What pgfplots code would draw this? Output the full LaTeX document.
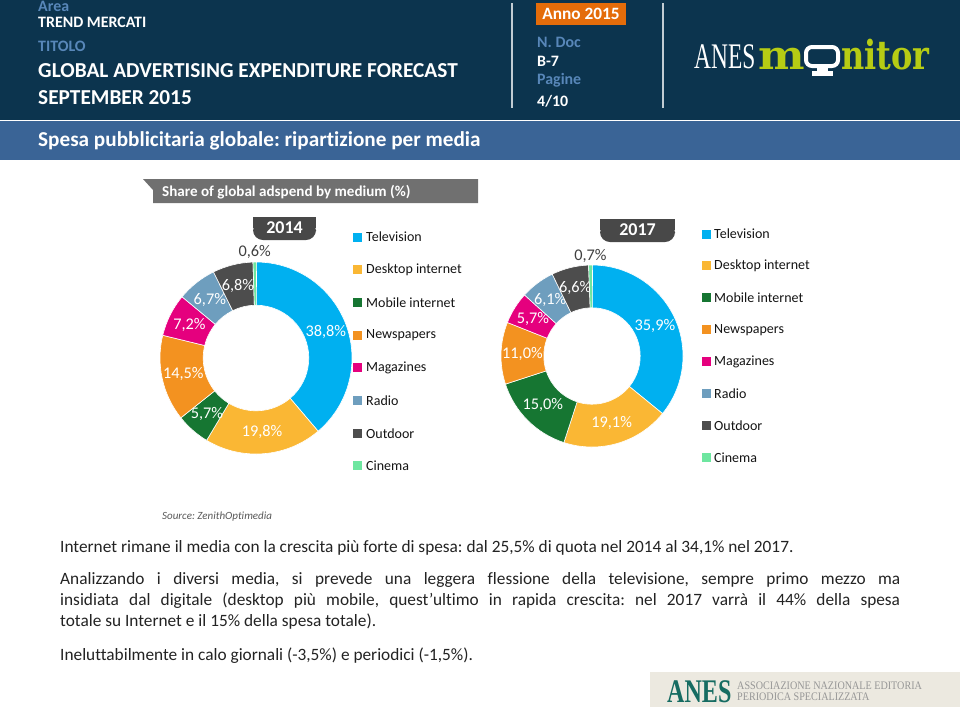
\documentclass[border=0pt]{standalone}
\usepackage{pgfplots}
\pgfplotsset{compat=1.18}
\usepackage{pgfplotstable}
\usepackage{fontspec}
\setmainfont{Carlito}[Ligatures=NoCommon]
\newfontfamily\serif{Liberation Serif}
\newfontfamily\dserif{DejaVu Serif}
\frenchspacing

\definecolor{navy}{RGB}{12,52,78}
\definecolor{band}{RGB}{58,100,150}
\definecolor{lblue}{RGB}{88,135,185}
\definecolor{anno}{RGB}{228,108,10}
\definecolor{lime}{RGB}{182,204,20}
\definecolor{titgray}{RGB}{112,112,112}
\definecolor{tabgray}{RGB}{72,72,72}
\definecolor{labdark}{RGB}{64,64,64}
\definecolor{bodytxt}{RGB}{35,35,35}
\definecolor{footbg}{RGB}{236,233,224}
\definecolor{teal}{RGB}{22,108,98}
\definecolor{footgray}{RGB}{150,150,150}
\definecolor{legtxt}{RGB}{20,20,20}

\definecolor{c0}{RGB}{0,176,240}
\definecolor{c1}{RGB}{250,183,52}
\definecolor{c2}{RGB}{22,118,50}
\definecolor{c3}{RGB}{243,146,32}
\definecolor{c4}{RGB}{229,0,126}
\definecolor{c5}{RGB}{110,158,190}
\definecolor{c6}{RGB}{77,77,77}
\definecolor{c7}{RGB}{110,230,160}

\pgfkeys{/pgf/number format/.cd,use comma,fixed,fixed zerofill,precision=1,assume math mode=true}

\pgfplotstableread{
medium v14 v17
Television 38.8 35.9
Desktop 19.8 19.1
Mobile 5.7 15.0
Newspapers 14.5 11.0
Magazines 7.2 5.7
Radio 6.7 6.1
Outdoor 6.8 6.6
Cinema 0.6 0.7
}\mediadata

\newcommand\lab{\fontsize{16.3}{16}\selectfont}

% #1 column, #2 outer radius (pt), #3 inner ratio
\newcommand\drawdonut[3]{%
  \def\cum{0}%
  \pgfplotsforeachungrouped \i in {0,...,7}{%
    \pgfplotstablegetelem{\i}{#1}\of\mediadata
    \let\val\pgfplotsretval
    \pgfmathsetmacro\a{90-3.6*\cum}%
    \pgfmathsetmacro\b{90-3.6*(\cum+\val)}%
    \pgfmathsetmacro\m{(\a+\b)/2}%
    \pgfmathsetmacro\ri{#2*#3}%
    \pgfmathsetmacro\rm{(1+#3)/2}%
    \edef\temp{\noexpand\fill[c\i,draw=white,line width=0.6pt] (axis cs:{cos(\a)},{sin(\a)}) arc[start angle=\a,end angle=\b,radius=#2pt] -- (axis cs:{#3*cos(\b)},{#3*sin(\b)}) arc[start angle=\b,end angle=\a,radius=\ri pt] -- cycle;}%
    \temp
    \ifnum\i=7
      \edef\temp{\noexpand\node[text=labdark,font=\noexpand\lab] at (axis cs:{1.1*cos(\m)},{1.1*sin(\m)}) {\noexpand\pgfmathprintnumber{\val}\noexpand\%};}%
    \else
      \edef\temp{\noexpand\node[text=white,font=\noexpand\lab] at (axis cs:{\rm*cos(\m)},{\rm*sin(\m)}) {\noexpand\pgfmathprintnumber{\val}\noexpand\%};}%
    \fi
    \temp
    \pgfmathsetmacro\cum{\cum+\val}%
  }%
}

\begin{document}
\begin{tikzpicture}[x=1pt,y=-1pt]
\useasboundingbox (0,0) rectangle (960,710);
\fill[white] (0,0) rectangle (960,710);
% header
\fill[navy] (0,0) rectangle (960,120);
\fill[band] (0,121) rectangle (960,160);
\node[anchor=west,inner sep=0,text=lblue,font=\fontsize{15.9}{16}\selectfont\bfseries] at (38,6) {Area};
\node[anchor=west,inner sep=0,text=white,font=\fontsize{15.9}{16}\selectfont\bfseries] at (38,22) {TREND MERCATI};
\node[anchor=west,inner sep=0,text=lblue,font=\fontsize{15.9}{16}\selectfont\bfseries] at (38,46) {TITOLO};
\node[anchor=west,inner sep=0,text=white,font=\fontsize{21.3}{22}\selectfont\bfseries] at (38,71) {GLOBAL ADVERTISING EXPENDITURE FORECAST};
\node[anchor=west,inner sep=0,text=white,font=\fontsize{21.3}{22}\selectfont\bfseries] at (38,98) {SEPTEMBER 2015};
\draw[line width=1.5pt,white!75!navy] (512,3) -- (512,108);
\draw[line width=1.5pt,white!75!navy] (663,3) -- (663,108);
\fill[anno] (536,3) rectangle (626,25);
\node[text=white,font=\fontsize{17.3}{18}\selectfont\bfseries] at (581,14) {Anno 2015};
\node[anchor=west,inner sep=0,text=lblue,font=\fontsize{15.9}{16}\selectfont\bfseries] at (537,42) {N. Doc};
\node[anchor=west,inner sep=0,text=white,font=\fontsize{15.9}{16}\selectfont\bfseries] at (537,61) {B-7};
\node[anchor=west,inner sep=0,text=lblue,font=\fontsize{15.9}{16}\selectfont\bfseries] at (537,80) {Pagine};
\node[anchor=west,inner sep=0,text=white,font=\fontsize{15.9}{16}\selectfont\bfseries] at (537,101) {4/10};
% logo
\node[anchor=base west,inner sep=0,text=white,font=\fontsize{36}{36}\serif] at (694,68) {\scalebox{0.65}[1]{ANES}};
\node[anchor=base west,inner sep=0,text=lime,font=\fontsize{40}{40}\dserif\bfseries] at (758,69) {\scalebox{1.1}[1]{m}};
\draw[white,line width=4pt,rounded corners=6pt] (806,47) rectangle (838,66);
\fill[white] (817,66) rectangle (828,72);
\fill[white] (812,71) rectangle (833,76);
\node[anchor=base west,inner sep=0,text=lime,font=\fontsize{40}{40}\dserif\bfseries] at (841,69) {\scalebox{0.8}[1]{nitor}};
% band title
\node[anchor=west,inner sep=0,text=white,font=\fontsize{21.2}{22}\selectfont\bfseries] at (38,141) {Spesa pubblicitaria globale: ripartizione per media};
% chart title
\fill[titgray] (143,179) -- (478,179) -- (478,203) -- (153,203) -- (153,190) -- cycle;
\node[anchor=west,inner sep=0,text=white,font=\fontsize{15.1}{16}\selectfont\bfseries] at (162,192) {Share of global adspend by medium (\%)};
% year tabs
\fill[tabgray] (253,217) rectangle (316,228);
\fill[tabgray,rounded corners=10pt] (253,221) rectangle (316,240);
\node[text=white,font=\fontsize{18}{18}\selectfont\bfseries] at (284.5,228) {2014};
\fill[tabgray] (600,219) rectangle (675,230);
\fill[tabgray,rounded corners=10pt] (600,223) rectangle (675,242);
\node[text=white,font=\fontsize{18}{18}\selectfont\bfseries] at (637.5,230) {2017};
% donuts
\begin{axis}[at={(256pt,-358pt)},anchor=center,x=96pt,y=96pt,xmin=-1,xmax=1,ymin=-1,ymax=1,hide axis,clip=false]
\drawdonut{v14}{96}{0.55}
\end{axis}
\begin{axis}[at={(592pt,-356pt)},anchor=center,x=91pt,y=91pt,xmin=-1,xmax=1,ymin=-1,ymax=1,hide axis,clip=false]
\drawdonut{v17}{91}{0.53}
\end{axis}
% legends
\foreach \n/\t [count=\k from 0] in {Television,Desktop internet,Mobile internet,Newspapers,Magazines,Radio,Outdoor,Cinema}{
  \pgfmathsetmacro\yy{237+32.7*\k}
  \fill[c\k] (353,\yy-4.5) rectangle (362,\yy+4.5);
  \node[anchor=west,inner sep=0,text=legtxt,font=\fontsize{14}{14}\selectfont] at (366,\yy) {\n};
  \pgfmathsetmacro\yz{234+31.9*\k}
  \fill[c\k] (702,\yz-4.5) rectangle (711,\yz+4.5);
  \node[anchor=west,inner sep=0,text=legtxt,font=\fontsize{14}{14}\selectfont] at (714,\yz) {\n};
}
\node[anchor=west,inner sep=0,text=black!65,font=\fontsize{11}{12}\selectfont\itshape] at (162,517) {Source: ZenithOptimedia};
% body
\node[anchor=base west,inner sep=0,text=bodytxt,font=\fontsize{17.3}{21}\selectfont] at (60,552) {Internet rimane il media con la crescita più forte di spesa: dal 25,5\% di quota nel 2014 al 34,1\% nel 2017.};
\node[anchor=north west,inner sep=0,text width=840pt,align=justify,text=bodytxt,font=\fontsize{17.3}{21}\selectfont] at (60,572) {Analizzando i diversi media, si prevede una leggera flessione della televisione, sempre primo mezzo ma\linebreak insidiata dal digitale (desktop più mobile, quest’ultimo in rapida crescita: nel 2017 varrà il 44\% della spesa\linebreak totale su Internet e il 15\% della spesa totale).};
\node[anchor=base west,inner sep=0,text=bodytxt,font=\fontsize{17.3}{21}\selectfont] at (60,660) {Ineluttabilmente in calo giornali (-3,5\%) e periodici (-1,5\%).};
% footer
\fill[footbg] (650,672) rectangle (960,707);
\node[anchor=base west,inner sep=0,text=teal,font=\fontsize{33}{33}\serif\bfseries] at (667,702) {\scalebox{0.73}[1]{ANES}};
\node[anchor=base west,inner sep=0,text=footgray,font=\fontsize{11.5}{12}\serif] at (737,689) {\scalebox{0.88}[1]{ASSOCIAZIONE NAZIONALE EDITORIA}};
\node[anchor=base west,inner sep=0,text=footgray,font=\fontsize{11.5}{12}\serif] at (737,700) {\scalebox{0.88}[1]{PERIODICA SPECIALIZZATA}};
\end{tikzpicture}
\end{document}
